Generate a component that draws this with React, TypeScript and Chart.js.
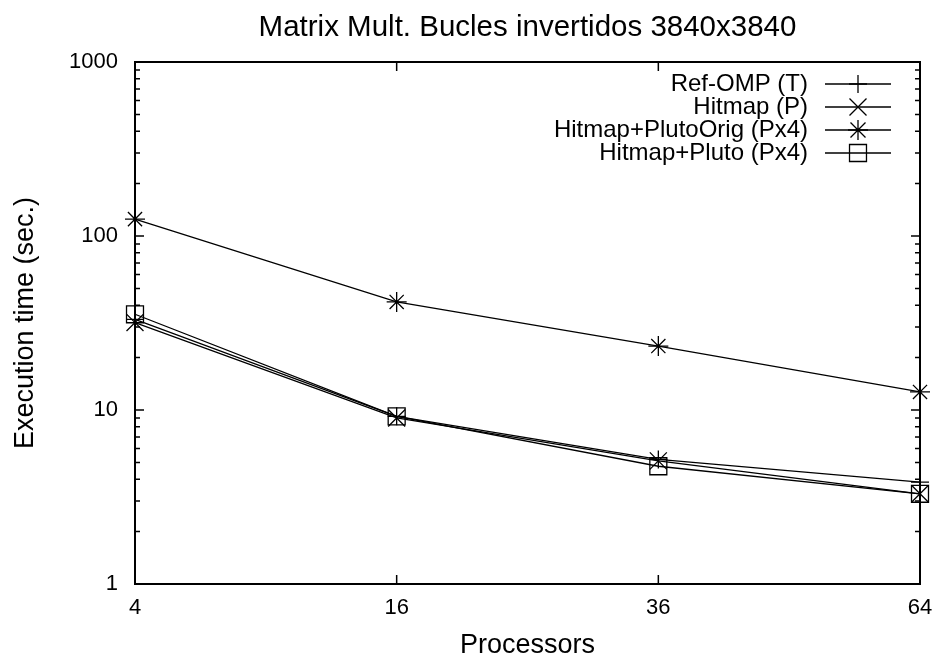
import React, { useEffect, useRef } from "react";
import { Chart, registerables } from "chart.js";

Chart.register(...registerables);

const TITLE = "Matrix Mult. Bucles invertidos 3840x3840";
const X_TITLE = "Processors";
const Y_TITLE = "Execution time (sec.)";
const processors = ["4", "16", "36", "64"];
const yTickValues = [1, 10, 100, 1000];

const refOmp = [33.2, 9.2, 5.2, 3.85];
const hitmap = [31.8, 9.0, 5.1, 3.3];
const plutoOrig = [125, 41.8, 23.3, 12.7];
const pluto = [35.5, 9.2, 4.75, 3.3];

const seriesNames = ["Ref-OMP (T)", "Hitmap (P)", "Hitmap+PlutoOrig (Px4)", "Hitmap+Pluto (Px4)"];
const seriesStyles = ["cross", "crossRot", "star", "rect"];
const seriesRadii = [9, 12, 10, 12];

const FONT = "'Liberation Sans', Arial, Helvetica, sans-serif";

function drawMarker(ctx: CanvasRenderingContext2D, style: string, x: number, y: number, r: number) {
  ctx.beginPath();
  if (style === "cross" || style === "star") {
    ctx.moveTo(x - r, y); ctx.lineTo(x + r, y);
    ctx.moveTo(x, y - r); ctx.lineTo(x, y + r);
  }
  if (style === "crossRot" || style === "star") {
    const o = style === "star" ? r * 0.75 : r * Math.SQRT1_2;
    ctx.moveTo(x - o, y - o); ctx.lineTo(x + o, y + o);
    ctx.moveTo(x - o, y + o); ctx.lineTo(x + o, y - o);
  }
  if (style === "rect") {
    const s = r * Math.SQRT1_2;
    ctx.rect(x - s, y - s, 2 * s, 2 * s);
  }
  ctx.stroke();
}

const framePlugin = {
  id: "gnuplotFrame",
  afterDraw(chart: any) {
    const { ctx, chartArea } = chart;
    const { left, right, top, bottom } = chartArea;
    const xs = chart.scales.x;
    const ys = chart.scales.y;
    ctx.save();
    ctx.strokeStyle = "#000";
    ctx.lineWidth = 2;
    ctx.strokeRect(left, top, right - left, bottom - top);

    ctx.lineWidth = 1.5;
    ctx.beginPath();
    for (let d = 1; d <= 100; d *= 10) {
      for (let m = 1; m <= 10; m++) {
        const v = d * m;
        const py = ys.getPixelForValue(v);
        const len = m === 1 || m === 10 ? 9 : 5;
        ctx.moveTo(left, py); ctx.lineTo(left + len, py);
        ctx.moveTo(right, py); ctx.lineTo(right - len, py);
      }
    }
    for (let i = 1; i < processors.length - 1; i++) {
      const px = xs.getPixelForValue(i);
      ctx.moveTo(px, bottom); ctx.lineTo(px, bottom - 9);
      ctx.moveTo(px, top); ctx.lineTo(px, top + 9);
    }
    ctx.stroke();

    // title
    ctx.fillStyle = "#000";
    ctx.font = `29.5px ${FONT}`;
    ctx.textAlign = "center";
    ctx.textBaseline = "middle";
    ctx.fillText(TITLE, (left + right) / 2, 28);

    // legend
    ctx.font = `24px ${FONT}`;
    ctx.textAlign = "right";
    chart.data.datasets.forEach((ds: any, i: number) => {
      const ly = 84 + i * 23;
      ctx.fillText(ds.label, 808, ly);
      ctx.lineWidth = 1.3;
      ctx.beginPath();
      ctx.moveTo(825, ly); ctx.lineTo(891, ly);
      ctx.stroke();
      drawMarker(ctx, seriesStyles[i], 858, ly, i === 0 ? 9 : i === 2 ? 10 : i === 1 ? 8.5 * Math.SQRT2 : 12);
    });
    ctx.restore();
  },
};

export default function App() {
  const ref = useRef<HTMLCanvasElement | null>(null);
  useEffect(() => {
    if (!ref.current) return;
    const values = [refOmp, hitmap, plutoOrig, pluto];
    const chart = new Chart(ref.current, {
      type: "line",
      data: {
        labels: processors,
        datasets: values.map((v, i) => ({
          label: seriesNames[i],
          data: v,
          borderColor: "#000",
          backgroundColor: "rgba(0,0,0,0)",
          borderWidth: 1.3,
          pointStyle: seriesStyles[i] as any,
          pointRadius: seriesRadii[i],
          pointBorderColor: "#000",
          pointBorderWidth: 1.3,
          pointBackgroundColor: "rgba(0,0,0,0)",
          tension: 0,
        })),
      },
      options: {
        responsive: false,
        animation: false,
        layout: { padding: { top: 62, right: 17, left: 0, bottom: 0 } },
        plugins: {
          legend: { display: false },
          title: { display: false },
          tooltip: { enabled: false },
        },
        scales: {
          x: {
            type: "category",
            offset: false,
            grid: { display: false },
            border: { display: false },
            ticks: { color: "#000", font: { family: FONT, size: 22 }, padding: 3, maxRotation: 0 },
            title: { display: true, text: X_TITLE, color: "#000", font: { family: FONT, size: 27, lineHeight: 1 }, padding: { top: 0, bottom: 1 } },
            afterFit: (s: any) => { s.height = 76; },
          },
          y: {
            type: "logarithmic",
            min: 1,
            max: 1000,
            grid: { display: false },
            border: { display: false },
            afterBuildTicks: (s: any) => { s.ticks = yTickValues.map((v) => ({ value: v, major: true })); },
            ticks: {
              color: "#000",
              font: { family: FONT, size: 22 },
              padding: 9,
              callback: (v: any) => String(v),
            },
            title: { display: true, text: Y_TITLE, color: "#000", font: { family: FONT, size: 27, lineHeight: 1 }, padding: { top: 12, bottom: 0 } },
            afterFit: (s: any) => { s.width = 135; },
          },
        },
      },
      plugins: [framePlugin],
    });
    return () => chart.destroy();
  }, []);
  return (
    <div style={{ position: "fixed", left: 0, top: 0, width: 937, height: 660, background: "#fff" }}>
      <canvas ref={ref} width={937} height={660} style={{ width: 937, height: 660 }} />
    </div>
  );
}
